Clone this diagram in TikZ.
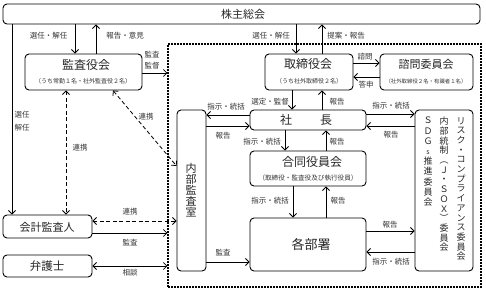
\documentclass[tikz,border=0pt]{standalone}
\usepackage{fontspec}
\setmainfont{Noto Sans CJK JP}
\usetikzlibrary{arrows.meta}
\begin{document}
\begin{tikzpicture}[x=1pt,y=-1pt,
  box/.style={draw, rounded corners=4pt, line width=0.9pt, inner sep=0pt},
  frm/.style={draw, line width=1.2pt, dash pattern=on 2pt off 1pt, inner sep=0pt},
  arr/.style={line width=0.8pt, -{Straight Barb[length=3.5pt,width=7pt]}},
  barr/.style={line width=0.8pt, {Straight Barb[length=3.5pt,width=7pt]}-{Straight Barb[length=3.5pt,width=7pt]}},
  dbarr/.style={barr, dash pattern=on 4pt off 2.5pt},
  lab/.style={inner sep=0pt, text=black!80, font=\fontsize{7.5}{8}\selectfont},
  ttl/.style={inner sep=0pt, text=black!85, font=\fontsize{12}{12}\selectfont},
  sub/.style={inner sep=0pt, text=black!80, font=\fontsize{6}{6}\selectfont},
  vt/.style={inner sep=0pt, anchor=north, align=center, text=black!85, font=\fontsize{9}{9.7}\selectfont}
]
\useasboundingbox (0,0) rectangle (486,294);

% boxes
\node[box, minimum width=477pt, minimum height=20pt] (kabu) at (241.5,14) {};
\node[frm, minimum width=313pt, minimum height=243pt] (frame) at (324.5,165.5) {};
\node[box, minimum width=117pt, minimum height=36pt] (kansa) at (83.5,72) {};
\node[box, minimum width=88pt, minimum height=36pt] (tori) at (309,72) {};
\node[box, minimum width=93pt, minimum height=36pt] (shimon) at (426.5,72) {};
\node[box, minimum width=116pt, minimum height=20pt] (shacho) at (308,120) {};
\node[box, minimum width=58pt, minimum height=161pt] (risk) at (444,190.5) {};
\node[box, minimum width=29pt, minimum height=161pt] (naibu) at (191.5,190.5) {};
\node[box, minimum width=116pt, minimum height=35pt] (goudou) at (308,168.5) {};
\node[box, minimum width=116pt, minimum height=53pt] (kakubu) at (308,244.5) {};
\node[box, minimum width=89pt, minimum height=23pt] (kaikei) at (47.5,226.5) {};
\node[box, minimum width=89pt, minimum height=22pt] (bengo) at (47.5,266) {};

% box texts
\node[ttl, font=\fontsize{11}{11}\selectfont] (tkabu) at (243,14) {株主総会};
\node[ttl] (tkansa) at (86,65) {監査役会};
\node[sub] (skansa) at (83,81) {（うち常勤１名・社外監査役２名）};
\node[ttl] (ttori) at (308,64) {取締役会};
\node[sub] (stori) at (309,81) {（うち社外取締役２名）};
\node[ttl, font=\fontsize{11}{11}\selectfont] (tshimon) at (426,64) {諮問委員会};
\node[sub, font=\fontsize{5.4}{6}\selectfont] (sshimon) at (426,81) {（社外取締役２名・有識者１名）};
\node[ttl] (tshacho) at (306,120) {社\hspace{28pt}長};
\node[ttl] (tgoudou) at (312,162) {合同役員会};
\node[sub, font=\fontsize{6.6}{7}\selectfont] (sgoudou) at (308,178) {（取締役・監査役及び執行役員）};
\node[ttl, font=\fontsize{13}{13}\selectfont] (tkakubu) at (311,245) {各部署};
\node[ttl, font=\fontsize{11}{11}\selectfont] (tkaikei) at (47,227) {会計監査人};
\node[ttl, font=\fontsize{11.5}{11.5}\selectfont] (tbengo) at (47,266) {弁護士};
\node[vt, font=\fontsize{11}{11}\selectfont] (tnaibu) at (191,163) {内\\部\\監\\査\\室};
\node[vt] (trisk1) at (461,117) {リ\\ス\\ク\\・\\コ\\ン\\プ\\ラ\\イ\\ア\\ン\\ス\\委\\員\\会};
\node[vt] (trisk2) at (444,117) {内\\部\\統\\制\\︵\\Ｊ\\・\\Ｓ\\Ｏ\\Ｘ\\︶\\委\\員\\会};
\node[vt, font=\fontsize{9}{10.2}\selectfont] (trisk3) at (428,117) {Ｓ\\Ｄ\\Ｇ\\{\fontsize{7}{7}\selectfont s}\\推\\進\\委\\員\\会};

% connectors
\draw[arr] (12,0 |- kabu.south) -- (12,0 |- kaikei.north);
\draw[arr] (75,0 |- kabu.south) -- (75,0 |- kansa.north);
\draw[arr] (96,0 |- kansa.north) -- (96,0 |- kabu.south);
\draw[arr] (296,0 |- kabu.south) -- (296,0 |- tori.north);
\draw[arr] (322,0 |- tori.north) -- (322,0 |- kabu.south);
\draw[arr] (kansa.east |- 0,73) -- (frame.west |- 0,73);
\draw[arr] (tori.east |- 0,63) -- (shimon.west |- 0,63);
\draw[arr] (shimon.west |- 0,77) -- (tori.east |- 0,77);
\draw[arr] (292,0 |- tori.south) -- (292,0 |- shacho.north);
\draw[arr] (322,0 |- shacho.north) -- (322,0 |- tori.south);
\draw[arr] (shacho.east |- 0,114) -- (risk.west |- 0,114);
\draw[arr] (risk.west |- 0,126) -- (shacho.east |- 0,126);
\draw[arr] (shacho.west |- 0,115) -- (naibu.east |- 0,115);
\draw[arr] (naibu.east |- 0,126) -- (shacho.west |- 0,126);
\draw[arr] (285,0 |- shacho.south) -- (285,0 |- goudou.north);
\draw[arr] (326,0 |- goudou.north) -- (326,0 |- shacho.south);
\draw[arr] (293,0 |- goudou.south) -- (293,0 |- kakubu.north);
\draw[arr] (326,0 |- kakubu.north) -- (326,0 |- goudou.south);
\draw[arr] (kakubu.east |- 0,231) -- (risk.west |- 0,231);
\draw[arr] (risk.west |- 0,252) -- (kakubu.east |- 0,252);
\draw[arr] (naibu.east |- 0,262) -- (kakubu.west |- 0,262);
\draw[dbarr] (113,0 |- kansa.south) -- (naibu.west |- 0,166);
\draw[dbarr] (66,0 |- kansa.south) -- (66,0 |- kaikei.north);
\draw[dbarr] (kaikei.east |- 0,221) -- (naibu.west |- 0,221);
\draw[arr] (kaikei.east |- 0,233) -- (frame.west |- 0,233);
\draw[barr] (bengo.east |- 0,266) -- (frame.west |- 0,266);

% labels
\node[lab] (l1) at (48.5,36) {選任・解任};
\node[lab] (l2) at (125,36) {報告・意見};
\node[lab] (l3) at (22,115) {選任};
\node[lab] (l4) at (22,128) {解任};
\node[lab, align=center, font=\fontsize{7.5}{11}\selectfont] (l5) at (152,60.5) {監査\\監督};
\node[lab] (l6) at (271,36) {選任・解任};
\node[lab] (l7) at (346,36) {提案・報告};
\node[lab] (l8) at (365,57) {諮問};
\node[lab] (l9) at (366,85) {答申};
\node[lab] (l10) at (270,102) {選定・監督};
\node[lab] (l11) at (337,102) {報告};
\node[lab] (l12) at (391,106) {指示・統括};
\node[lab] (l13) at (391,135) {報告};
\node[lab] (l14) at (226,107) {指示・統括};
\node[lab] (l15) at (223,136) {報告};
\node[lab] (l16) at (262,142) {指示・統括};
\node[lab] (l17) at (337,142) {報告};
\node[lab] (l18) at (270,201) {指示・統括};
\node[lab] (l19) at (338,201) {報告};
\node[lab] (l20) at (390,225) {報告};
\node[lab] (l21) at (391,262) {指示・統括};
\node[lab] (l22) at (223,253) {監査};
\node[lab] (l23) at (146,117) {連携};
\node[lab] (l24) at (80,148) {連携};
\node[lab] (l25) at (130,212) {連携};
\node[lab] (l26) at (130,243) {監査};
\node[lab] (l27) at (130,273) {相談};
\end{tikzpicture}
\end{document}
